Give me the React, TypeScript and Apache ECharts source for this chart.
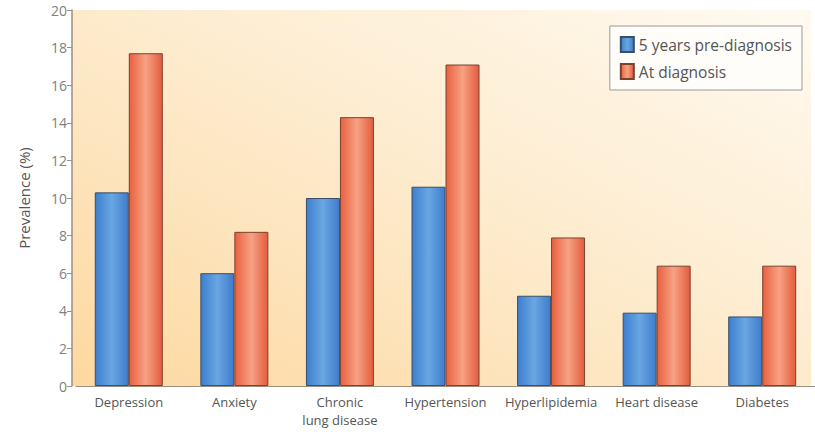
import React, { useEffect, useRef } from "react";
import * as echarts from "echarts";

const categories = ["Depression", "Anxiety", "Chronic\nlung disease", "Hypertension", "Hyperlipidemia", "Heart disease", "Diabetes"];
const preDiagnosis = [10.3, 6.0, 10.0, 10.6, 4.8, 3.9, 3.7];
const atDiagnosis = [17.7, 8.2, 14.3, 17.1, 7.9, 6.4, 6.4];
const seriesNames = ["5 years pre-diagnosis", "At diagnosis"];
const yTicks = { min: 0, max: 20, interval: 2 };

const FONT = "'Open Sans', 'DejaVu Sans', sans-serif";

export default function App() {
  const ref = useRef<HTMLDivElement>(null);
  useEffect(() => {
    if (!ref.current) return;
    const chart = echarts.init(ref.current, null, { renderer: "svg" });
    const blue = new echarts.graphic.LinearGradient(0, 0, 1, 0, [
      { offset: 0, color: "#3c7fcf" },
      { offset: 0.5, color: "#6aa6e2" },
      { offset: 1, color: "#3f7ccb" },
    ]);
    const red = new echarts.graphic.LinearGradient(0, 0, 1, 0, [
      { offset: 0, color: "#e9603f" },
      { offset: 0.5, color: "#f6a283" },
      { offset: 1, color: "#e45c3d" },
    ]);
    chart.setOption({
      animation: false,
      backgroundColor: "#ffffff",
      textStyle: { fontFamily: FONT },
      graphic: [
        {
          type: "rect",
          z: -10,
          silent: true,
          shape: { x: 72, y: 10, width: 739, height: 376 },
          style: {
            fill: new echarts.graphic.LinearGradient(0, 1, 1, 0, [
              { offset: 0, color: "#fdd8a0" },
              { offset: 0.45, color: "#fde9c8" },
              { offset: 1, color: "#fffaf1" },
            ]),
          },
        },
      ],
      legend: {
        data: seriesNames,
        orient: "vertical",
        right: 13,
        top: 26,
        icon: "rect",
        itemWidth: 13,
        itemHeight: 15,
        itemGap: 10,
        padding: [10, 10, 10, 10],
        borderColor: "#9a9a9a",
        borderWidth: 1,
        backgroundColor: "#fffdf9",
        textStyle: { fontFamily: FONT, fontSize: 15.5, color: "#555" },
      },
      grid: { left: 76, right: -6, top: 10, bottom: 46, containLabel: false },
      xAxis: {
        type: "category",
        data: categories,
        axisLine: { lineStyle: { color: "#9a8f80", width: 1 } },
        axisTick: { show: false },
        axisLabel: { interval: 0, fontFamily: FONT, fontSize: 13, color: "#555", margin: 7, lineHeight: 18 },
      },
      yAxis: {
        type: "value",
        min: yTicks.min,
        max: yTicks.max,
        interval: yTicks.interval,
        offset: 4,
        name: "Prevalence (%)",
        nameLocation: "middle",
        nameGap: 41,
        nameTextStyle: { fontFamily: FONT, fontSize: 15, color: "#555" },
        axisLine: { show: true, lineStyle: { color: "#9a8f80", width: 1.5 } },
        axisTick: { show: true, length: 5, lineStyle: { color: "#9a8f80" } },
        axisLabel: { fontFamily: FONT, fontSize: 14, color: "#808080", margin: 5 },
        splitLine: { show: false },
      },
      series: [
        {
          name: seriesNames[0],
          type: "bar",
          data: preDiagnosis,
          barWidth: 34,
          barGap: "0%",
          itemStyle: { color: blue, borderColor: "#3b4d66", borderWidth: 1 },
        },
        {
          name: seriesNames[1],
          type: "bar",
          data: atDiagnosis,
          barWidth: 34,
          barGap: "0%",
          itemStyle: { color: red, borderColor: "#7a4030", borderWidth: 1 },
        },
      ],
    });
    return () => chart.dispose();
  }, []);
  return <div ref={ref} style={{ position: "fixed", left: 0, top: 0, width: 815, height: 432 }} />;
}
